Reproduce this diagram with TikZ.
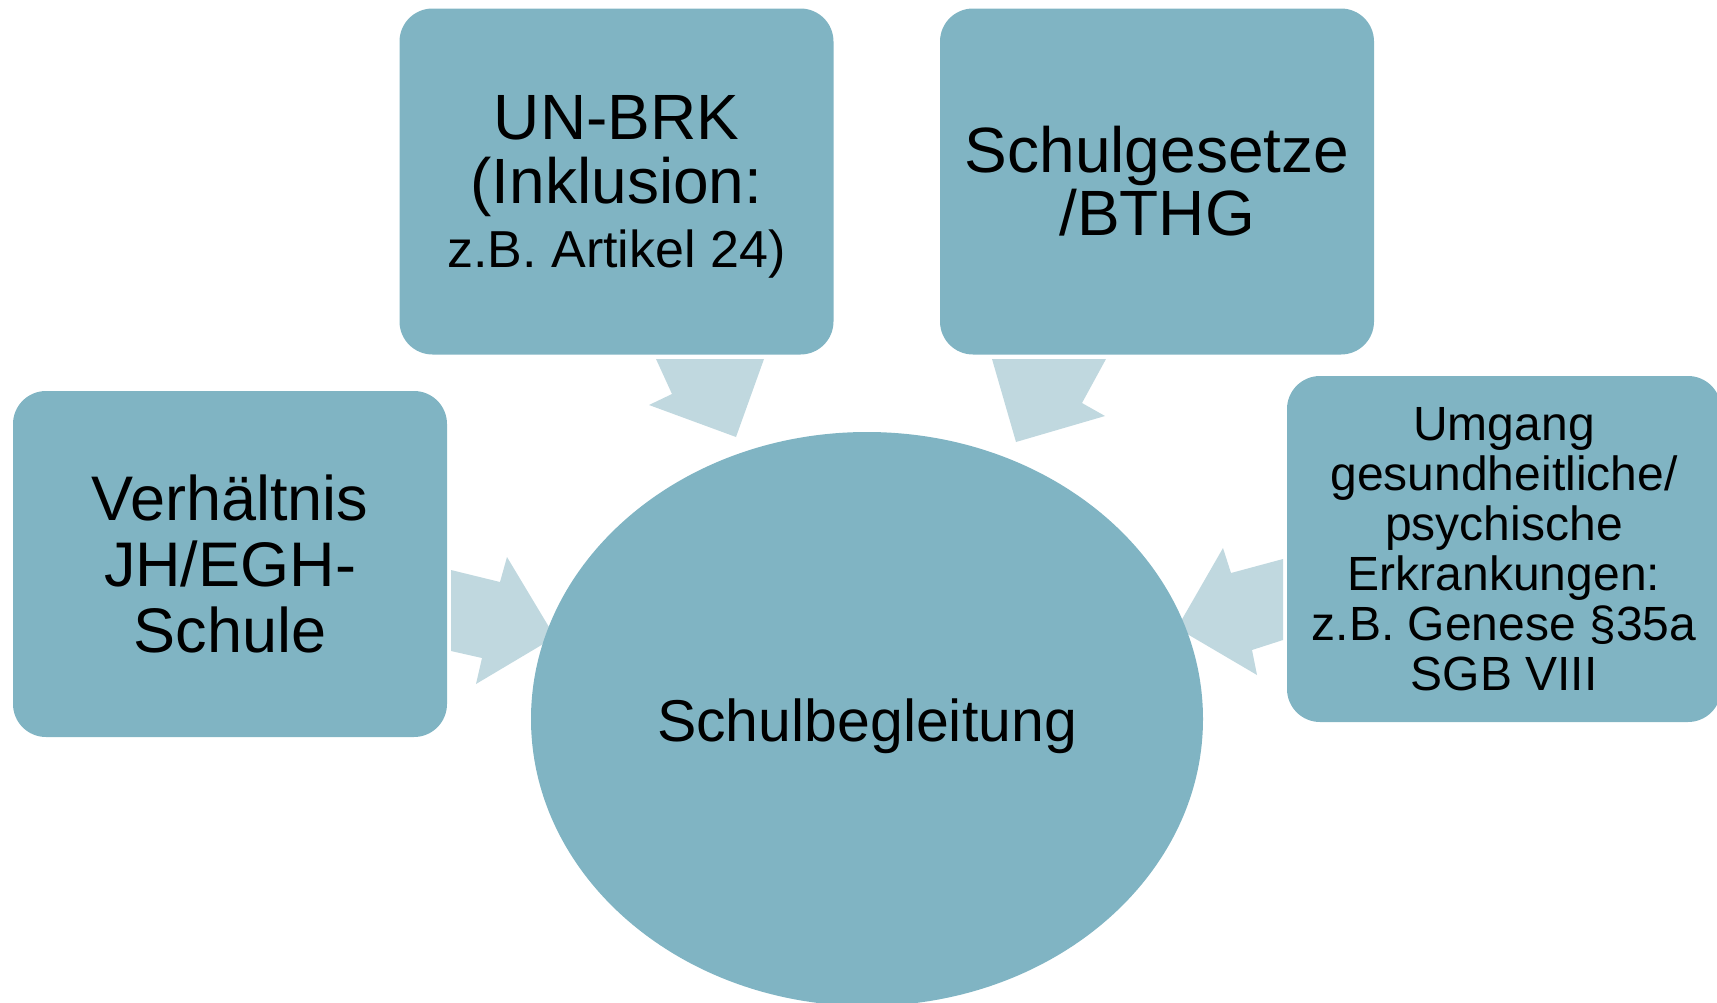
\documentclass[tikz,border=0pt]{standalone}
\usepackage{fontspec}
\setmainfont{Liberation Sans}
\usetikzlibrary{shapes.geometric}
\definecolor{boxfill}{RGB}{128,180,195}
\definecolor{arrowfill}{RGB}{192,216,223}
\begin{document}
\begin{tikzpicture}[x=1pt,y=-1pt,
  boxnode/.style={draw=none, fill=boxfill, rounded corners=33pt, inner sep=0pt,
    align=center, text=black, minimum width=434pt, minimum height=346pt},
  blockarrow/.style={fill=arrowfill, draw=none}]
\useasboundingbox (0,0) rectangle (1717,1002);
% arrows (drawn first, beneath)
\fill[blockarrow] (451,570) -- (500,582) -- (507,557) -- (555,637) -- (476,684) -- (482,658) -- (451,651) -- cycle;
\fill[blockarrow] (1283,559) -- (1231,573) -- (1223,548) -- (1177,628) -- (1257,675) -- (1252,650) -- (1283,640) -- cycle;
\fill[blockarrow] (656,359) -- (764,359) -- (736,437) -- (649,405) -- (672,394) -- cycle;
\fill[blockarrow] (992,359) -- (1106,359) -- (1082,403) -- (1105,416) -- (1016,442) -- cycle;
% nodes
\node[boxnode, font=\fontsize{63}{66}\selectfont] (verh) at (230,564) {Verhältnis\\JH/EGH-\\Schule};
\node[boxnode, font=\fontsize{64}{64}\selectfont, text depth=0pt] (unbrk) at (616.5,181.5) {UN-BRK\\(Inklusion:\\\fontsize{52}{59}\selectfont z.B. Artikel 24)};
\node[boxnode, font=\fontsize{64}{63}\selectfont] (schul) at (1157,181.5) {Schulgesetze\\/BTHG};
\node[boxnode, font=\fontsize{48}{50}\selectfont] (umg) at (1504,549) {Umgang\\gesundheitliche/\\psychische\\Erkrankungen:\\z.B. Genese §35a\\SGB VIII};
\node[ellipse, fill=boxfill, draw=none, minimum width=672pt, minimum height=574pt, inner sep=0pt] (sb) at (867,719) {};
\node[font=\fontsize{59}{66}\selectfont, anchor=base] (sbl) at (867,741) {Schulbegleitung};
\end{tikzpicture}
\end{document}
